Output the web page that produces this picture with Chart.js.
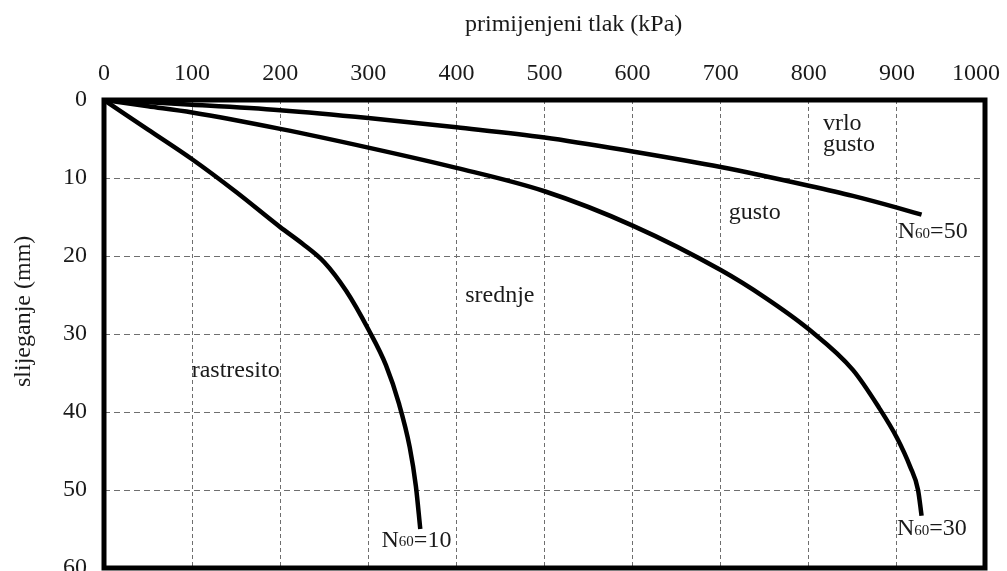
<!DOCTYPE html>
<html>
<head>
<meta charset="utf-8">
<script src="https://cdn.jsdelivr.net/npm/chart.js@4/dist/chart.umd.min.js"></script>
<style>
html,body{margin:0;padding:0;background:#fff;}
#wrap{width:1007px;height:571px;position:relative;}
</style>
</head>
<body>
<div id="wrap"><canvas id="c"></canvas></div>
<script>
// ---- data ----
const xAxisTitle = 'primijenjeni tlak (kPa)';
const yAxisTitle = 'slijeganje (mm)';
const pressureMin = 0, pressureMax = 1000, pressureStep = 100;
const settleMin = 0, settleMax = 60, settleStep = 10;

const n10Pressure   = [0, 50, 100, 150, 200, 225, 250, 275, 300, 320, 335, 347, 354, 359];
const n10Settlement = [0, 3.8, 7.6, 11.8, 16.3, 18.4, 20.8, 24.5, 29.4, 34.0, 39.0, 44.5, 49.5, 55];

const n30Pressure   = [0, 50, 100, 200, 300, 400, 500, 600, 700, 750, 800, 850, 880, 900, 915, 924, 928];
const n30Settlement = [0, 0.8, 1.6, 3.7, 6.1, 8.7, 11.7, 16.1, 21.8, 25.3, 29.4, 34.6, 39.5, 43.3, 47.0, 50.0, 53.3];

const n50Pressure   = [0, 50, 100, 200, 300, 400, 500, 600, 700, 800, 850, 900, 928];
const n50Settlement = [0, 0.3, 0.6, 1.3, 2.3, 3.5, 4.8, 6.6, 8.6, 11.0, 12.3, 13.8, 14.7];

const zoneLabels = ['vrlo', 'gusto', 'gusto', 'srednje', 'rastresito'];
const zoneLabelX = [816, 816, 709, 410, 99.5];
const zoneLabelY = [3.85, 6.5, 15.2, 25.9, 35.5];

const curveNames  = ['10', '30', '50'];
const curveLabelX = [315, 900, 901];
const curveLabelY = [57.3, 55.8, 17.7];

// ---- rendering ----
const FONT = '"Liberation Serif", "Times New Roman", serif';
const TXT = '#1a1a1a';

function pts(xs, ys){ return xs.map((x,i)=>({x:x, y:ys[i]})); }

const lineStyle = {
  borderColor:'#000', borderWidth:4.5, pointRadius:0, fill:false,
  cubicInterpolationMode:'monotone', borderCapStyle:'butt', borderJoinStyle:'round'
};

const decor = {
  id:'decor',
  afterDatasetsDraw(chart){
    const ctx = chart.ctx, a = chart.chartArea;
    const xs = chart.scales.x, ys = chart.scales.y;
    ctx.save();
    // frame
    ctx.strokeStyle = '#000';
    ctx.lineWidth = 5;
    ctx.strokeRect(a.left, a.top, a.right - a.left, a.bottom - a.top);
    // zone labels
    ctx.fillStyle = TXT;
    ctx.textBaseline = 'alphabetic';
    ctx.textAlign = 'left';
    ctx.font = '24px ' + FONT;
    zoneLabels.forEach((t,i)=>{
      ctx.fillText(t, xs.getPixelForValue(zoneLabelX[i]), ys.getPixelForValue(zoneLabelY[i]));
    });
    // curve labels N60=..
    curveNames.forEach((n,i)=>{
      let px = xs.getPixelForValue(curveLabelX[i]);
      const py = ys.getPixelForValue(curveLabelY[i]);
      ctx.font = '24px ' + FONT;
      ctx.fillText('N', px, py);
      px += ctx.measureText('N').width;
      ctx.font = '15px ' + FONT;
      ctx.fillText('60', px, py - 0.5);
      px += ctx.measureText('60').width;
      ctx.font = '24px ' + FONT;
      ctx.fillText('=' + n, px, py);
    });
    ctx.restore();
  },
  afterDraw(chart){
    const ctx = chart.ctx;
    ctx.save();
    ctx.fillStyle = TXT;
    ctx.font = '24px ' + FONT;
    ctx.textBaseline = 'alphabetic';
    ctx.textAlign = 'left';
    ctx.fillText(xAxisTitle, 465, 30.5);
    ctx.translate(30, 387);
    ctx.rotate(-Math.PI/2);
    ctx.fillText(yAxisTitle, 0, 0);
    ctx.restore();
  }
};

new Chart(document.getElementById('c'), {
  type:'line',
  data:{
    datasets:[
      Object.assign({label:'N60=10', data:pts(n10Pressure, n10Settlement)}, lineStyle),
      Object.assign({label:'N60=30', data:pts(n30Pressure, n30Settlement)}, lineStyle),
      Object.assign({label:'N60=50', data:pts(n50Pressure, n50Settlement)}, lineStyle)
    ]
  },
  options:{
    responsive:true,
    maintainAspectRatio:false,
    animation:false,
    events:[],
    layout:{padding:{left:0, top:0, right:22, bottom:3}},
    plugins:{legend:{display:false}, tooltip:{enabled:false}, title:{display:false}},
    scales:{
      x:{
        type:'linear', position:'top', min:pressureMin, max:pressureMax,
        ticks:{stepSize:pressureStep, padding:12, color:TXT, font:{family:FONT, size:24},
          callback:(v)=> v === pressureMax ? String(v) + '   ' : String(v)},
        grid:{color:'#6e6e6e', lineWidth:1, drawTicks:false},
        border:{display:false, dash:[4,3]},
        afterFit(s){ s.height = 100; s.paddingLeft = 0; s.paddingRight = 0; }
      },
      y:{
        type:'linear', reverse:true, min:settleMin, max:settleMax,
        ticks:{stepSize:settleStep, padding:17, color:TXT, font:{family:FONT, size:24}},
        grid:{color:'#6e6e6e', lineWidth:1, drawTicks:false},
        border:{display:false, dash:[6,4]},
        afterFit(s){ s.width = 104; s.paddingTop = 0; s.paddingBottom = 0; }
      }
    }
  },
  plugins:[decor]
});
</script>
</body>
</html>
